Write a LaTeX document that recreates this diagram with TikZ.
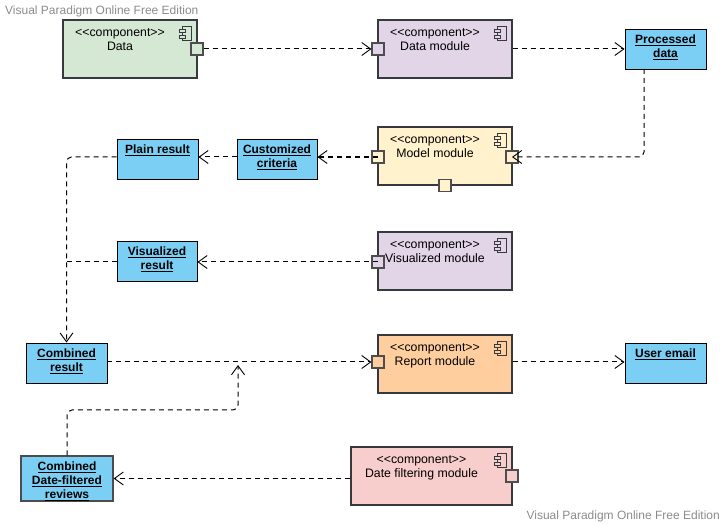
\documentclass[tikz,border=0pt]{standalone}
\usepackage{fontspec}
\setmainfont{Liberation Sans}
\usetikzlibrary{arrows.meta}

\definecolor{edge}{HTML}{36393D}
\definecolor{portedge}{HTML}{4D4D4D}
\definecolor{artblue}{HTML}{7BCFF5}
\definecolor{cgreen}{HTML}{D5E8D4}
\definecolor{clav}{HTML}{E1D5E7}
\definecolor{cyellow}{HTML}{FFF2CC}
\definecolor{cpeach}{HTML}{FFCE9F}
\definecolor{cpink}{HTML}{F8CECC}
\definecolor{wmgray}{HTML}{8C8C8C}

\tikzset{
  comp/.style={draw=edge, line width=1.2pt, minimum width=134pt, minimum height=58pt, inner sep=0pt},
  ctext/.style={font=\fontsize{12.3}{14}\selectfont, align=center, inner sep=0pt},
  artifact/.style={draw=black, line width=0.9pt, fill=artblue, minimum width=81pt, minimum height=40pt, inner sep=0pt},
  atext/.style={font=\fontsize{12}{14}\selectfont\bfseries, align=center, inner sep=0pt},
  portbox/.style={draw=portedge, line width=1.1pt, minimum size=12pt, inner sep=0pt},
  iconline/.style={draw=edge, line width=0.9pt},
  dashline/.style={draw=black, line width=1pt, dash pattern=on 5pt off 4pt},
  conn/.style={dashline, -{Straight Barb[length=9pt,width=13pt,line width=0.9pt]}},
  heavy/.style={line width=1.3pt},
  watermark/.style={text=wmgray, font=\fontsize{12}{14}\selectfont, inner sep=0pt},
}

% component icon in the top right corner of a component box
\newcommand\compicon[2]{%
  \draw[iconline, fill=#2] ([shift={(-15pt,-7pt)}]#1.north east) rectangle ++(9pt,-14pt);
  \draw[iconline, fill=#2] ([shift={(-18pt,-10pt)}]#1.north east) rectangle ++(6pt,-3.5pt);
  \draw[iconline, fill=#2] ([shift={(-18pt,-16pt)}]#1.north east) rectangle ++(6pt,-3.5pt);
}

\begin{document}
\begin{tikzpicture}[x=1pt, y=-1pt]
  \fill[white] (0,0) rectangle (726,526);
  \useasboundingbox (0,0) rectangle (726,526);

  % watermarks
  \node[watermark, anchor=west] (wmtop) at (5,11) {Visual Paradigm Online Free Edition};
  \node[watermark, anchor=east] (wmbot) at (720,516) {Visual Paradigm Online Free Edition};

  % components
  \node[comp, fill=cgreen] (data) at (130,49)
    [label={[ctext, anchor=north, xshift=-10pt, yshift=-8.5pt]north:{<{}<component>{}>\\Data}}] {};
  \node[comp, fill=clav] (dm) at (445,49)
    [label={[ctext, anchor=north, xshift=-10pt, yshift=-8.5pt]north:{<{}<component>{}>\\Data module}}] {};
  \node[comp, fill=cyellow] (mm) at (445,156)
    [label={[ctext, anchor=north, xshift=-10pt, yshift=-8.5pt]north:{<{}<component>{}>\\Model module}}] {};
  \node[comp, fill=clav] (vm) at (445,261)
    [label={[ctext, anchor=north, xshift=-10pt, yshift=-8.5pt]north:{<{}<component>{}>\\Visualized module}}] {};
  \node[comp, fill=cpeach] (rm) at (445,364)
    [label={[ctext, anchor=north, xshift=-10pt, yshift=-8.5pt]north:{<{}<component>{}>\\Report module}}] {};
  \node[comp, fill=cpink, minimum width=161pt] (df) at (431.5,476)
    [label={[ctext, anchor=north, xshift=-10pt, yshift=-8.5pt]north:{<{}<component>{}>\\Date filtering module}}] {};

  \compicon{data}{cgreen}
  \compicon{dm}{clav}
  \compicon{mm}{cyellow}
  \compicon{vm}{clav}
  \compicon{rm}{cpeach}
  \compicon{df}{cpink}

  % ports
  \node[portbox, fill=cgreen] (datap) at (197,49) {};
  \node[portbox, fill=clav] (dmp) at (378,49) {};
  \node[portbox, fill=cyellow] (mmpl) at (378,157) {};
  \node[portbox, fill=cyellow] (mmpr) at (512,157) {};
  \node[portbox, fill=cyellow] (mmpb) at (445,185.5) {};
  \node[portbox, fill=clav] (vmp) at (378,262) {};
  \node[portbox, fill=cpeach] (rmp) at (378,362) {};
  \node[portbox, fill=cpink] (dfp) at (512,476) {};

  % artifacts
  \node[artifact] (pd) at (665.5,49)
    [label={[atext, anchor=north, yshift=-6.5pt]north:{\underline{Processed}\\\underline{data}}}] {};
  \node[artifact, minimum width=80pt] (cc) at (277,159)
    [label={[atext, anchor=north, yshift=-6.5pt]north:{\underline{Customized}\\\underline{criteria}}}] {};
  \node[artifact] (pr) at (157.5,159)
    [label={[atext, anchor=north, yshift=-6.5pt]north:{\underline{Plain result}}}] {};
  \node[artifact, minimum width=80pt] (vr) at (157,261)
    [label={[atext, anchor=north, yshift=-6.5pt]north:{\underline{Visualized}\\\underline{result}}}] {};
  \node[artifact] (cr) at (66.5,363)
    [label={[atext, anchor=north, yshift=-6.5pt]north:{\underline{Combined}\\\underline{result}}}] {};
  \node[artifact] (ue) at (665.5,363)
    [label={[atext, anchor=north, yshift=-6.5pt]north:{\underline{User email}}}] {};
  \node[artifact, draw=black!70, line width=1.3pt, minimum width=92pt, minimum height=45pt] (cdf) at (67,478.5)
    [label={[atext, anchor=north, yshift=-6pt]north:{\underline{Combined}\\\underline{Date-filtered}\\\underline{reviews}}}] {};

  % connectors
  \coordinate (pdout) at (644,69);
  \coordinate (bend) at (238,410);
  \coordinate (tip) at (238,365);

  \draw[conn] (datap.east) -- (dmp.west);
  \draw[conn] (dm.east) -- (pd.west);
  \draw[conn, rounded corners=5pt] (pdout) -- (pdout |- mmpr) -- (mmpr.center);
  \draw[conn, heavy] (mmpl.center) -- (cc.east |- mmpl);
  \draw[conn] (cc.west |- mmpl) -- (pr.east |- mmpl);
  \draw[conn, rounded corners=5pt] (pr.west |- mmpl) -- (cr.north |- mmpl) -- (cr.north);
  \draw[conn] (vmp.center) -- (vr.east |- vmp);
  \draw[dashline] (vr.west |- vmp) -- (cr.north |- vmp);
  \draw[conn] (cr.east |- rmp) -- (rmp.west);
  \draw[conn] (rm.east |- rmp) -- (ue.west |- rmp);
  \draw[conn, rounded corners=5pt] (cdf.north) -- (cdf.north |- bend) -- (bend) -- (tip);
  \draw[conn, heavy] (df.west |- cdf) -- (cdf.east);
\end{tikzpicture}
\end{document}
